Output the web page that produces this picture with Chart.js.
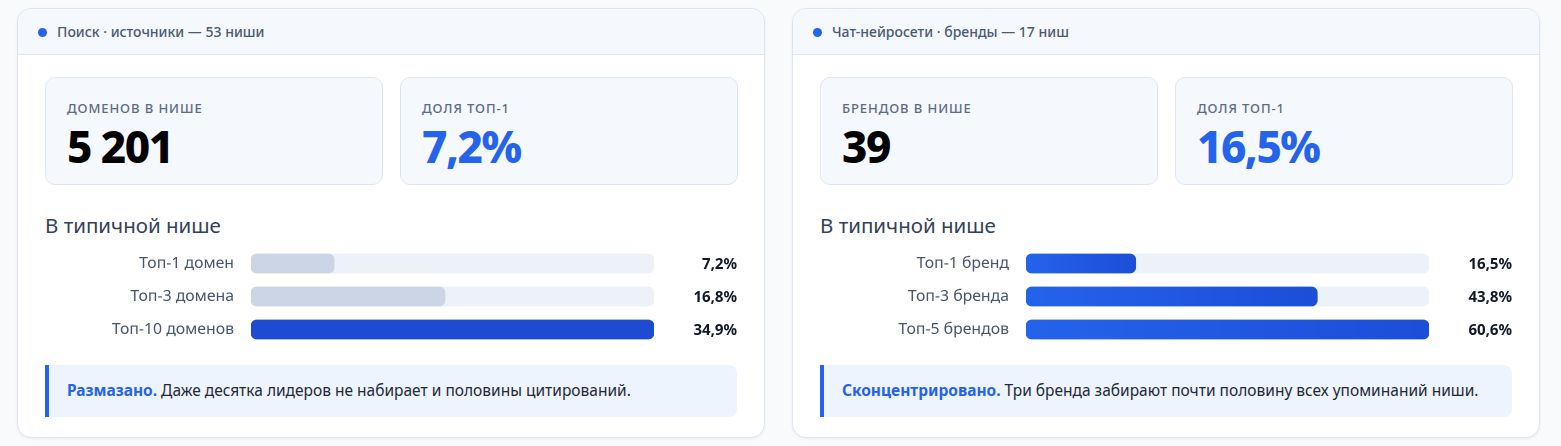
<!DOCTYPE html>
<html>
<head>
<meta charset="utf-8">
<script src="https://cdn.jsdelivr.net/npm/chart.js@4.4.1/dist/chart.umd.min.js"></script>
<style>
  html,body{margin:0;padding:0;background:#f9fafb;width:1561px;height:446px;overflow:hidden;font-family:"Noto Sans",sans-serif;}
  .card{position:absolute;top:8px;width:746px;height:428px;background:#fff;border:1px solid #dde5f2;border-radius:14px;box-shadow:0 1px 3px rgba(15,23,42,0.06);overflow:hidden;}
  .head{position:absolute;left:0;top:0;right:0;height:45px;background:#f5f8fc;border-bottom:1px solid #dde5f2;}
  .dot{position:absolute;left:20px;top:19px;width:9px;height:9px;border-radius:50%;background:#2563eb;}
  .htxt{position:absolute;left:39px;top:14px;font-size:14px;font-weight:500;color:#4b5a70;line-height:18px;white-space:nowrap;}
  .stat{position:absolute;top:68px;width:336px;height:106px;background:#f5f8fc;border:1px solid #dde5f2;border-radius:10px;}
  .slab{position:absolute;left:21px;top:22px;font-size:13px;letter-spacing:0.07em;color:#5d6b82;font-weight:500;line-height:16px;white-space:nowrap;}
  .sval{position:absolute;left:21px;top:40px;font-size:44px;font-weight:800;letter-spacing:-1.5px;line-height:56px;color:#000;white-space:nowrap;}
  .sval.blue{color:#2563eb;}
  .ttl{position:absolute;left:27px;top:203px;font-size:20.5px;color:#334155;line-height:26px;white-space:nowrap;}
  .cv{position:absolute;left:27px;top:238px;width:692px;height:99px;}
  .note{position:absolute;left:27px;top:356px;width:688px;height:52px;background:#eef4fe;border-left:4px solid #2563eb;border-radius:0 8px 8px 0;}
  .ntxt{position:absolute;left:18px;top:15px;font-size:15.5px;line-height:20px;color:#1f2937;white-space:nowrap;}
  .ntxt b{color:#2563eb;font-weight:700;}
</style>
</head>
<body>
<div class="card" id="c1" style="left:17px;">
  <div class="head"><div class="dot"></div><div class="htxt" id="h1"></div></div>
  <div class="stat" style="left:27px;"><div class="slab" id="s1l"></div><div class="sval" id="s1v"></div></div>
  <div class="stat" style="left:382px;"><div class="slab" id="s2l"></div><div class="sval blue" id="s2v"></div></div>
  <div class="ttl">В типичной нише</div>
  <div class="cv"><canvas id="ch1" width="692" height="99" style="width:692px;height:99px;"></canvas></div>
  <div class="note"><div class="ntxt" id="n1"></div></div>
</div>
<div class="card" id="c2" style="left:792px;">
  <div class="head"><div class="dot"></div><div class="htxt" id="h2"></div></div>
  <div class="stat" style="left:27px;"><div class="slab" id="s3l"></div><div class="sval" id="s3v"></div></div>
  <div class="stat" style="left:382px;"><div class="slab" id="s4l"></div><div class="sval blue" id="s4v"></div></div>
  <div class="ttl">В типичной нише</div>
  <div class="cv"><canvas id="ch2" width="692" height="99" style="width:692px;height:99px;"></canvas></div>
  <div class="note"><div class="ntxt" id="n2"></div></div>
</div>
<script>
// ---- data ----
const headerTitles = ['Поиск · источники — 53 ниши', 'Чат-нейросети · бренды — 17 ниш'];
const statLabels = ['Доменов в нише', 'Доля топ-1', 'Брендов в нише', 'Доля топ-1'];
const statValues = ['5 201', '7,2%', '39', '16,5%'];
const searchLabels = ['Топ-1 домен', 'Топ-3 домена', 'Топ-10 доменов'];
const searchValues = [7.2, 16.8, 34.9];
const chatLabels = ['Топ-1 бренд', 'Топ-3 бренда', 'Топ-5 брендов'];
const chatValues = [16.5, 43.8, 60.6];
const noteBold = ['Размазано.', 'Сконцентрировано.'];
const noteText = ['Даже десятка лидеров не набирает и половины цитирований.', 'Три бренда забирают почти половину всех упоминаний ниши.'];

// ---- text ----
document.getElementById('h1').textContent = headerTitles[0];
document.getElementById('h2').textContent = headerTitles[1];
['s1','s2','s3','s4'].forEach((id,i)=>{
  document.getElementById(id+'l').textContent = statLabels[i].toUpperCase();
  document.getElementById(id+'v').textContent = statValues[i];
});
document.getElementById('n1').innerHTML = '<b>'+noteBold[0]+'</b> '+noteText[0];
document.getElementById('n2').innerHTML = '<b>'+noteBold[1]+'</b> '+noteText[1];

const fmt = v => v.toFixed(1).replace('.', ',') + '%';

const valuePlugin = {
  id: 'valueLabels',
  afterDatasetsDraw(chart) {
    const ctx = chart.ctx;
    const meta = chart.getDatasetMeta(0);
    ctx.save();
    ctx.font = '700 15px "Noto Sans", sans-serif';
    ctx.fillStyle = '#111827';
    ctx.textAlign = 'right';
    ctx.textBaseline = 'middle';
    meta.data.forEach((bar, i) => {
      ctx.fillText(fmt(chart.data.datasets[0].data[i]), chart.width, bar.y + 1);
    });
    ctx.restore();
  }
};

function makeChart(id, labels, values, colorFn) {
  const max = Math.max(...values);
  return new Chart(document.getElementById(id), {
    type: 'bar',
    data: {
      labels: labels,
      datasets: [
        { data: values, backgroundColor: colorFn, borderRadius: 6, borderSkipped: false, barThickness: 19, grouped: false },
        { data: labels.map(() => max), backgroundColor: '#edf1f8', borderRadius: 6, borderSkipped: false, barThickness: 19, grouped: false }
      ]
    },
    options: {
      indexAxis: 'y',
      responsive: false,
      animation: false,
      devicePixelRatio: 2,
      layout: { padding: { left: 0, right: 83, top: 0, bottom: 0 } },
      plugins: { legend: { display: false }, tooltip: { enabled: false } },
      scales: {
        x: { display: false, min: 0, max: max },
        y: {
          grid: { display: false },
          border: { display: false },
          ticks: { color: '#475569', font: { family: '"Noto Sans", sans-serif', size: 15.8 }, padding: 9 },
          afterFit(scale) { scale.width = 206; scale.paddingTop = 0; scale.paddingBottom = 0; }
        }
      }
    },
    plugins: [valuePlugin]
  });
}

const searchColors = ['#cbd5e6', '#cbd5e6', '#1e4bd1'];
makeChart('ch1', searchLabels, searchValues, ctx => searchColors[ctx.dataIndex]);

makeChart('ch2', chatLabels, chatValues, ctx => {
  const chart = ctx.chart;
  if (!chart.chartArea || !chart.scales.x) return '#2563eb';
  const x0 = chart.scales.x.getPixelForValue(0);
  const x1 = chart.scales.x.getPixelForValue(chatValues[ctx.dataIndex]);
  const g = chart.ctx.createLinearGradient(x0, 0, x1, 0);
  g.addColorStop(0, '#2563eb');
  g.addColorStop(1, '#1d4ed8');
  return g;
});
</script>
</body>
</html>
